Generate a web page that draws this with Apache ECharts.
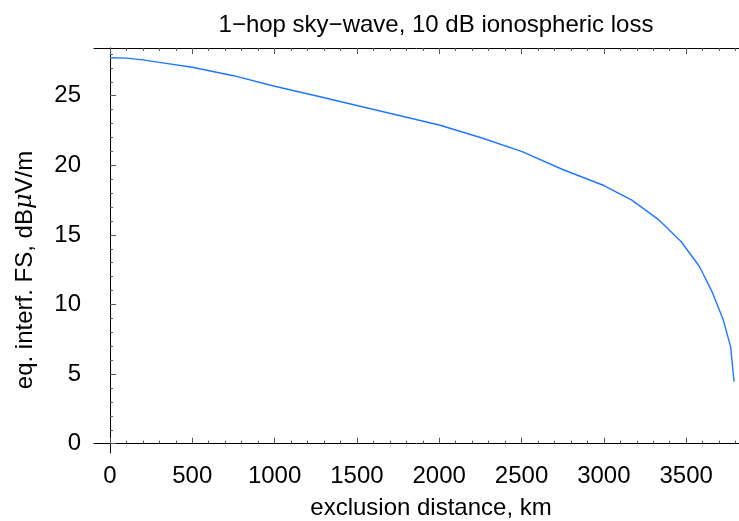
<!DOCTYPE html>
<html>
<head>
<meta charset="utf-8">
<script src="https://cdn.jsdelivr.net/npm/echarts@6/dist/echarts.min.js"></script>
<style>html,body{margin:0;padding:0;background:#fff}#c{width:739px;height:521px}</style>
</head>
<body>
<div id="c"></div>
<script>
// exclusion distance (km)
const distanceKm = [0, 100, 200, 300, 500, 750, 1000, 1250, 1500, 1750, 2000, 2250, 2500, 2750, 3000, 3170, 3330, 3470, 3580, 3660, 3725, 3770, 3791];
// equivalent interfering field strength (dBuV/m)
const fieldStrength = [27.73, 27.70, 27.58, 27.40, 27.05, 26.44, 25.68, 25.00, 24.30, 23.60, 22.90, 22.00, 21.00, 19.70, 18.55, 17.50, 16.12, 14.51, 12.75, 10.85, 8.90, 6.97, 4.45];

const xMajorTicks = [0, 500, 1000, 1500, 2000, 2500, 3000, 3500];
const xMinorTicks = [];
for (let v = 0; v <= 3800; v += 100) if (v % 500 !== 0) xMinorTicks.push(v);
const yMajorTicks = [0, 5, 10, 15, 20, 25];
const yMinorTicks = [];
for (let v = 0; v <= 28; v += 1) if (v % 5 !== 0) yMinorTicks.push(v);

const titleText = '1\u2212hop sky\u2212wave, 10 dB ionospheric loss';
const xTitle = 'exclusion distance, km';

const FONT = '"Liberation Sans", Arial, Helvetica, sans-serif';
const X_MIN = -97, X_MAX = 3821, Y_MIN = -0.67, Y_MAX = 28.43;

function xAx(pos, vals, len, showLine, showLabel) {
  return {
    type: 'value', position: pos, min: X_MIN, max: X_MAX,
    axisLine: {show: showLine, lineStyle: {color: '#000', width: 1}},
    splitLine: {show: false},
    axisTick: {show: true, inside: true, length: len, customValues: vals, lineStyle: {color: '#555', width: 1}},
    axisLabel: {show: showLabel, customValues: vals, formatter: v => String(v), fontFamily: FONT, fontSize: 24, color: '#000', margin: 11}
  };
}
function yAx(vals, len, showLine, showLabel) {
  return {
    type: 'value', position: 'left', min: Y_MIN, max: Y_MAX,
    axisLine: {show: showLine, lineStyle: {color: '#000', width: 1}},
    splitLine: {show: false},
    axisTick: {show: true, inside: true, length: len, customValues: vals, lineStyle: {color: '#555', width: 1}},
    axisLabel: {show: showLabel, customValues: vals, formatter: v => String(v), fontFamily: FONT, fontSize: 24, color: '#000', margin: 13}
  };
}

const chart = echarts.init(document.getElementById('c'), null, {renderer: 'canvas'});
chart.setOption({
  animation: false,
  backgroundColor: '#fff',
  title: {text: titleText, left: 431, top: 8, textAlign: 'center',
    textStyle: {fontFamily: FONT, fontSize: 24, fontWeight: 'normal', color: '#000'}},
  grid: {left: 94, right: 0, top: 48, bottom: 68, containLabel: false},
  xAxis: [
    xAx('bottom', xMajorTicks, 6, true, true),
    xAx('bottom', xMinorTicks, 3, false, false),
    xAx('top', xMajorTicks, 6, true, false),
    xAx('top', xMinorTicks, 3, false, false)
  ],
  yAxis: [
    yAx(yMajorTicks, 6, true, true),
    yAx(yMinorTicks, 3, false, false)
  ],
  graphic: [
    {type: 'text', x: 431, y: 508, style: {text: xTitle, fontFamily: FONT, fontSize: 24, fill: '#000', align: 'center', verticalAlign: 'middle'}},
    {type: 'text', x: 25, y: 270, rotation: Math.PI / 2,
      style: {text: 'eq. interf. FS, dB{i|\u03bc}V/m', fontFamily: FONT, fontSize: 24, fill: '#000', align: 'center', verticalAlign: 'middle',
        rich: {i: {fontStyle: 'italic', fontFamily: '"DejaVu Serif", serif', fontSize: 24, fill: '#000'}}}}
  ],
  series: [{
    type: 'line', xAxisIndex: 0, yAxisIndex: 0,
    data: distanceKm.map((d, i) => [d, fieldStrength[i]]),
    showSymbol: false, smooth: false,
    lineStyle: {color: '#1e78ff', width: 1.4}
  }]
});
</script>
</body>
</html>
